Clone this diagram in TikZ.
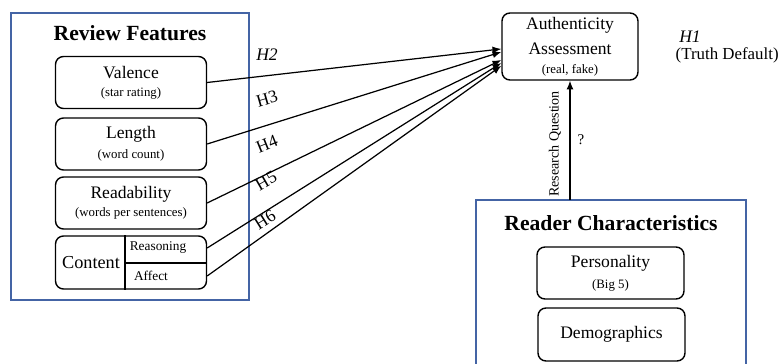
\documentclass[tikz,border=0pt]{standalone}
\usepackage{fontspec}
\setmainfont{Liberation Serif}
\usetikzlibrary{arrows.meta}
\definecolor{boxblue}{RGB}{68,100,165}
\newcommand{\subfont}{\fontsize{7.3}{8}\selectfont}
\newcommand{\cellfont}{\fontsize{7.6}{9}\selectfont}

\begin{document}
\begin{tikzpicture}[x=0.02cm, y=-0.02cm,
    feat/.style={draw, rounded corners=4.5pt, line width=0.8pt, inner sep=0pt,
        minimum width=3.02cm, minimum height=1.04cm, align=center,
        font=\fontsize{10}{12}\selectfont},
    hyp/.style={-{Latex[length=5pt,width=4pt]}, line width=0.7pt},
    grouptitle/.style={font=\fontsize{12.3}{14}\selectfont\bfseries},
    hlab/.style={font=\fontsize{10}{12}\selectfont, inner sep=0pt},
    frame/.style={boxblue, line width=0.7pt}]
    \useasboundingbox (0,0) rectangle (779,364);

    % Review features
    \draw[frame] (11,13) rectangle (249,300);
    \node[grouptitle] (revtitle) at (130,33) {Review Features};
    \node[feat] (valence) at (131,82.5) {Valence\\[-1.8pt]{\subfont (star rating)}};
    \node[feat] (length) at (131,144) {Length\\[-0.7pt]{\subfont (word count)}};
    \node[feat] (readab) at (131,203) {Readability\\[-1.8pt]{\subfont (words per sentences)}};
    \node[feat, minimum height=1.06cm] (content) at (131,262.5) {};
    \coordinate (cdiv) at (125,263);
    \draw[line width=0.6pt] (cdiv |- content.north) -- (cdiv |- content.south);
    \draw[line width=0.6pt] (cdiv) -- (cdiv -| content.east);
    \node[font=\fontsize{10.4}{12}\selectfont] (contlab) at (91,263) {Content};
    \node[font=\cellfont] (reason) at (158,248) {Reasoning};
    \node[font=\cellfont] (affect) at (151,276) {Affect};

    % Outcome
    \node[feat, minimum width=2.72cm, minimum height=1.34cm,
        font=\fontsize{10}{14}\selectfont] (auth) at (570,46.5)
        {Authenticity\\Assessment\\[-3.2pt]{\subfont (real, fake)}};
    \node[hlab, font=\fontsize{10}{12}\selectfont\itshape] (h1) at (690,37) {H1};
    \node[font=\fontsize{9.6}{10}\selectfont, anchor=east, inner sep=0pt] (truth) at (779,55) {(Truth Default)};

    % Hypotheses
    \draw[hyp] (valence.east) -- ([yshift=-1.4pt]auth.west);
    \draw[hyp] (length.east) -- ([yshift=-3.1pt]auth.west);
    \draw[hyp] (readab.east) -- ([yshift=-7.7pt]auth.west);
    \draw[hyp] (content.east |- reason) -- ([yshift=-9.4pt]auth.west);
    \draw[hyp] (content.east |- affect) -- ([yshift=-11pt]auth.west);
    \node[hlab, font=\fontsize{10}{12}\selectfont\itshape] (h2) at (267,55) {H2};
    \node[hlab, rotate=16] (h3) at (267,99) {H3};
    \node[hlab, rotate=22] (h4) at (267,144) {H4};
    \node[hlab, rotate=30] (h5) at (266,181) {H5};
    \node[hlab, rotate=32] (h6) at (265,220) {H6};

    % Reader characteristics
    \draw[frame] (476,366) -- (476,200) -- (746,200) -- (746,366);
    \node[grouptitle] (readtitle) at (611,223) {Reader Characteristics};
    \node[feat, minimum width=2.94cm] (persona) at (610.5,273) {Personality\\[0pt]{\subfont (Big 5)}};
    \node[feat, minimum width=2.94cm, minimum height=1.06cm] (demog) at (611.5,334.5) {Demographics};

    % Research question
    \coordinate (rtop) at (570,200);
    \draw[hyp] (rtop) -- (auth.south);
    \node[rotate=90, font=\fontsize{8}{10}\selectfont] (rq) at (555,144) {Research Question};
    \node[font=\fontsize{8.5}{10}\selectfont] (qmark) at (581,140) {?};
\end{tikzpicture}
\end{document}
